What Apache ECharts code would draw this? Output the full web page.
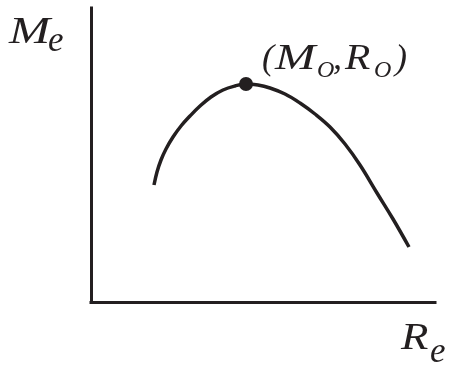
<!DOCTYPE html>
<html>
<head>
<meta charset="utf-8">
<script src="https://cdn.jsdelivr.net/npm/echarts@6/dist/echarts.min.js"></script>
<style>
html,body{margin:0;padding:0;background:#fff;}
#chart{width:451px;height:366px;}
</style>
</head>
<body>
<div id="chart"></div>
<script>
// Curve M_e as a function of R_e (arbitrary units)
const rValues = [63, 66, 70, 75, 82, 90, 99, 109, 120, 132, 144, 155, 167, 179, 194, 209, 224, 239, 254, 269, 286, 302, 318];
const mValues = [117, 130, 142, 153, 165, 176, 186, 196, 205, 212, 216, 218, 217, 214, 208, 199, 188, 175, 158, 137, 109, 83, 55];
// Optimum point (M_O, R_O)
const peakR = [155];
const peakM = [218];
const xRange = [0, 344];
const yRange = [0, 294];

const ink = '#231f20';

const curve = rValues.map((r, i) => [r, mValues[i]]);
const peak = peakR.map((r, i) => [r, peakM[i]]);

function txt(str, x, y, size, sx) {
  return {
    type: 'text', x: x, y: y, scaleX: sx || 1, silent: true,
    style: {
      text: str, fill: ink, x: 0, y: 0,
      font: 'italic ' + size + 'px "Liberation Serif", "Times New Roman", serif'
    }
  };
}

const chart = echarts.init(document.getElementById('chart'), null, { renderer: 'canvas' });
chart.setOption({
  animation: false,
  backgroundColor: '#fff',
  grid: { left: 91, right: 16, top: 8, bottom: 64 },
  xAxis: {
    type: 'value', min: xRange[0], max: xRange[1],
    axisLine: { show: true, onZero: false, lineStyle: { color: ink, width: 3, cap: 'square' } },
    axisTick: { show: false }, axisLabel: { show: false }, splitLine: { show: false }
  },
  yAxis: {
    type: 'value', min: yRange[0], max: yRange[1],
    axisLine: { show: true, onZero: false, lineStyle: { color: ink, width: 3, cap: 'square' } },
    axisTick: { show: false }, axisLabel: { show: false }, splitLine: { show: false }
  },
  series: [
    {
      type: 'line', data: curve, smooth: 0.4, showSymbol: false, symbol: 'none',
      lineStyle: { color: ink, width: 3.5 }
    },
    {
      type: 'scatter', data: peak, symbol: 'circle', symbolSize: 14,
      itemStyle: { color: ink, opacity: 1 }, z: 5
    }
  ],
  graphic: [
    txt('M', 9, 14, 38, 1.3),
    txt('e', 48, 24, 35),
    txt('(', 262, 42, 36),
    txt('M', 275, 42, 36, 1.35),
    txt('O', 317, 59, 24),
    txt(',', 333, 42, 36),
    txt('R', 345, 42, 36, 1.15),
    txt('O', 374, 59, 24),
    txt(')', 395, 42, 36),
    txt('R', 401, 320, 38, 1.18),
    txt('e', 430, 335, 35)
  ]
});
</script>
</body>
</html>
